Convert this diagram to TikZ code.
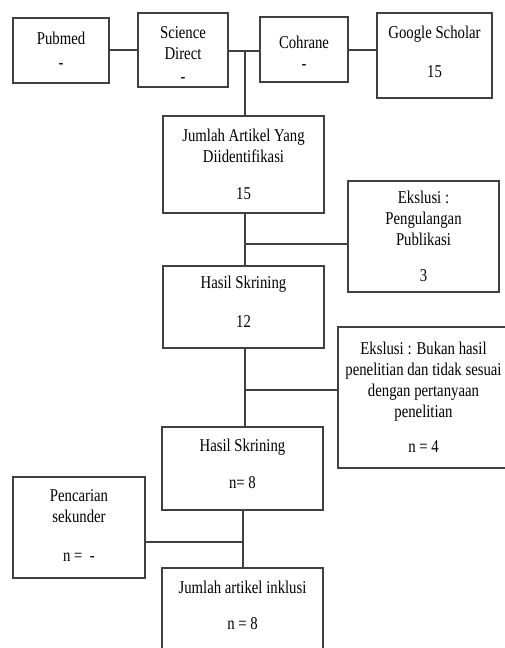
\documentclass[tikz,border=0pt]{standalone}
\usepackage{fontspec}
\setmainfont[FakeStretch=0.82]{Liberation Serif}
\newcommand{\dn}[1]{\rule[-#1]{0pt}{0pt}}
\newcommand{\up}[1]{\rule{0pt}{#1}}
\begin{document}
\begin{tikzpicture}[x=1pt,y=-1pt,
  box/.style={draw=black!75,line width=1.1pt,rectangle,inner sep=0pt,align=center,
    font=\fontsize{18}{21}\selectfont,text=black},
  conn/.style={draw=black!75,line width=1.1pt}]
\useasboundingbox (0,0) rectangle (505,648);
\clip (0,0) rectangle (505,648);
\fill[white] (0,0) rectangle (505,648);
% top row
\node[box,minimum width=96pt,minimum height=65pt] (pub) at (61,50.5) {Pubmed\\[3pt]-};
\node[box,minimum width=90pt,minimum height=74pt] (sd) at (183,50) {\up{20pt}Science\\Direct\\[2pt]-};
\node[box,minimum width=88pt,minimum height=65pt] (coh) at (304,49.5) {\up{19pt}Cohrane\\-};
\node[box,minimum width=115pt,minimum height=85pt] (gs) at (434.5,55.5) {Google Scholar\\[18pt]15\dn{7pt}};
% main column
\node[box,minimum width=161pt,minimum height=97pt] (jum) at (243.5,164.5) {Jumlah Artikel Yang\\Diidentifikasi\\[15.5pt]15};
\node[box,minimum width=151pt,minimum height=111pt] (ek1) at (423.5,236.5) {Ekslusi :\\Pengulangan\\Publikasi\\[15pt]3};
\node[box,minimum width=161pt,minimum height=82pt] (hs1) at (243.5,307) {Hasil Skrining\\[18pt]12\dn{10pt}};
\node[box,minimum width=171pt,minimum height=141pt] (ek2) at (423.5,397.5) {Ekslusi : Bukan hasil\\penelitian dan tidak sesuai\\dengan pertanyaan\\penelitian\\[14pt]n = 4};
\node[box,minimum width=161pt,minimum height=83pt] (hs2) at (242.5,468.5) {Hasil Skrining\\[16pt]n= 8\dn{10pt}};
\node[box,minimum width=132pt,minimum height=101pt] (pen) at (79,527.5) {Pencarian\\sekunder\\[18pt]n =\ \ -\dn{3pt}};
\node[box,minimum width=161pt,minimum height=87pt] (ink) at (242.5,611.5) {Jumlah artikel inklusi\\[15pt]n = 8\dn{12pt}};
% junctions
\coordinate (j0) at (245,51);
\coordinate (j1) at (245,244);
\coordinate (j2) at (245,390);
\coordinate (j3) at (243,542);
% connectors
\draw[conn] (pub.east |- 0,50) -- (sd.west |- 0,50);
\draw[conn] (sd.east |- j0) -- (coh.west |- j0);
\draw[conn] (coh.east |- 0,50) -- (gs.west |- 0,50);
\draw[conn] (j0) -- (j0 |- jum.north);
\draw[conn] (j1 |- jum.south) -- (j1 |- hs1.north);
\draw[conn] (j1) -- (ek1.west |- j1);
\draw[conn] (j2 |- hs1.south) -- (j2 |- hs2.north);
\draw[conn] (j2) -- (ek2.west |- j2);
\draw[conn] (j3 |- hs2.south) -- (j3 |- ink.north);
\draw[conn] (pen.east |- j3) -- (j3);
\end{tikzpicture}
\end{document}
